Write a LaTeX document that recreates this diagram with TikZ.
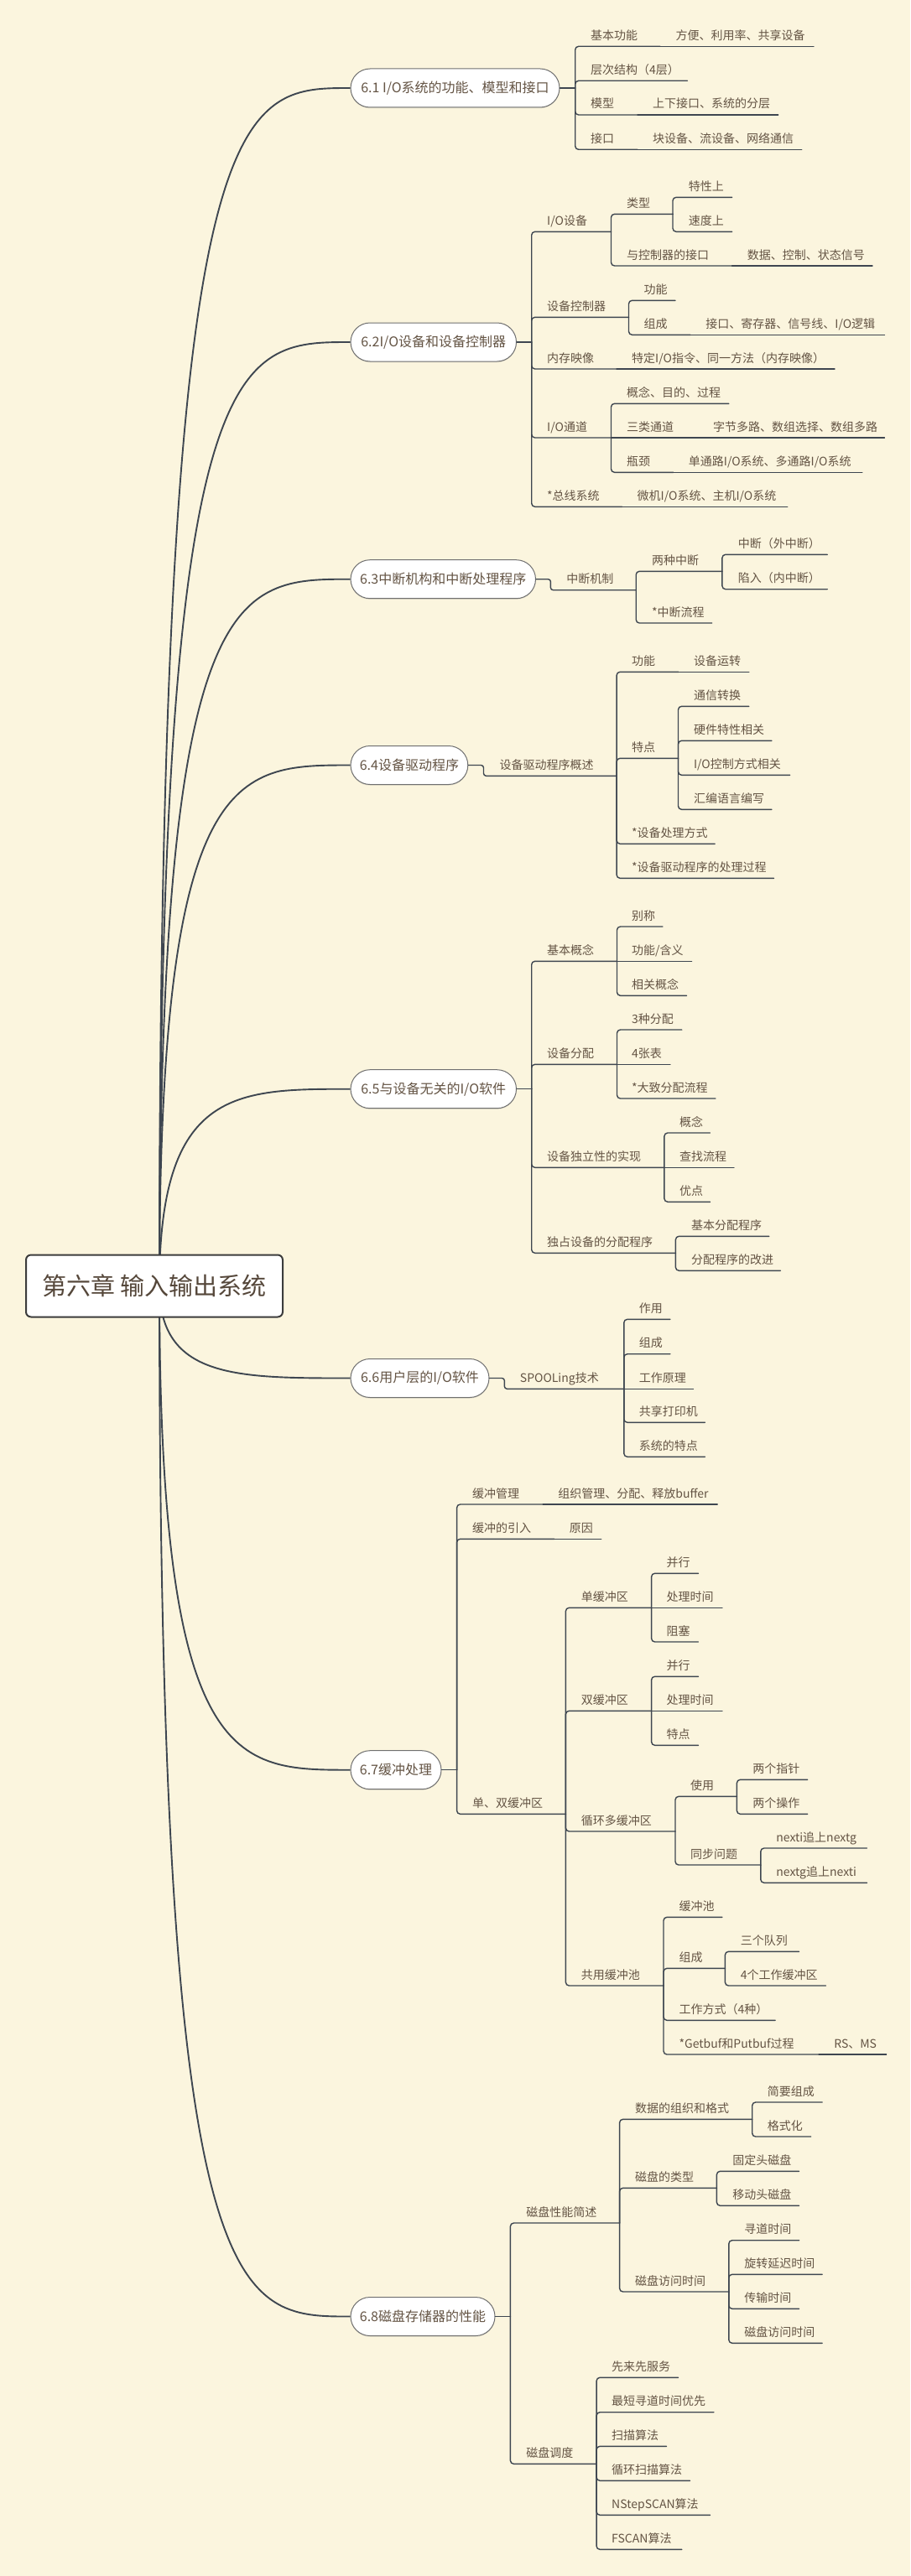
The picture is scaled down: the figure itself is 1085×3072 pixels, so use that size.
\documentclass[tikz,border=0pt]{standalone}
\usepackage{fontspec}
\setmainfont{Noto Sans CJK SC}
\usetikzlibrary{shadows}
\definecolor{bgc}{RGB}{251,245,222}
\definecolor{lnc}{RGB}{62,70,80}
\definecolor{txc}{RGB}{100,84,68}
\definecolor{l1b}{RGB}{112,112,112}
\definecolor{rtb}{RGB}{60,60,60}
\newcommand\mmI[5]{\coordinate (#1-r) at (#2,#3);\node[itm] (#1) at (#4,#3-8) {#5};}
\newcommand\mmE[2]{\draw[ln] (#1-r) |- (#2-r);}
\newcommand\mmH[2]{\draw[ln] (#1-r) -- (#2-r);}
\newcommand\mmC[2]{\draw[cv] (rc) .. controls (190,#2) and (281,#2) .. (#1.west);}
\begin{document}
\begin{tikzpicture}[x=1pt,y=-1pt,
 ln/.style={draw=lnc, line width=1.4pt, rounded corners=4pt, line cap=round},
 cv/.style={draw=lnc, line width=1.9pt},
 itm/.style={anchor=base west, inner sep=0pt, text=txc, font=\fontsize{14}{17}\selectfont},
 lone/.style={draw=l1b, line width=1pt, fill=white, rounded corners=23pt, minimum height=46pt, inner xsep=10pt, anchor=west, text=txc, font=\fontsize{16}{19}\selectfont, drop shadow={shadow xshift=0pt, shadow yshift=-1.2pt, opacity=0.22}},
 rootst/.style={draw=rtb, line width=2pt, fill=white, rounded corners=6pt, minimum width=306pt, minimum height=74pt, text=txc!85!black, font=\fontsize{29}{34}\selectfont}]
\useasboundingbox (0,0) rectangle (1085,3072);
\fill[bgc] (0,0) rectangle (1085,3072);
\coordinate (rc) at (190,1533.5);
% level-1 nodes
\node[lone, minimum width=249pt] (n1) at (417.5,105) {6.1 I/O系统的功能、模型和接口};
\node[lone, minimum width=197.5pt] (n2) at (417.5,408) {6.2I/O设备和设备控制器};
\node[lone, minimum width=220.5pt] (n3) at (417.5,690.7) {6.3中断机构和中断处理程序};
\node[lone, minimum width=139.8pt] (n4) at (417.5,912.5) {6.4设备驱动程序};
\node[lone, minimum width=197.5pt] (n5) at (417.5,1298.7) {6.5与设备无关的I/O软件};
\node[lone, minimum width=165pt] (n6) at (417.5,1643.5) {6.6用户层的I/O软件};
\node[lone, minimum width=108pt] (n7) at (417.5,2110.7) {6.7缓冲处理};
\node[lone, minimum width=172pt] (n8) at (417.5,2762.5) {6.8磁盘存储器的性能};
% curves from root
\mmC{n1}{105}
\mmC{n2}{408}
\mmC{n3}{690.7}
\mmC{n4}{912.5}
\mmC{n5}{1298.7}
\mmC{n6}{1643.5}
\mmC{n7}{2110.7}
\mmC{n8}{2762.5}
\node[rootst] (root) at (184,1533.5) {第六章 输入输出系统};
% junctions
\coordinate (j1-r) at (685.7,105);
\coordinate (j2-r) at (633.7,408);
\coordinate (s3) at (656.4,703.7);
\coordinate (s4) at (576.5,925.3);
\coordinate (j5-r) at (633.7,1298.7);
\coordinate (s6) at (601.4,1656.3);
\coordinate (j7-r) at (544.6,2110.7);
\coordinate (j8-r) at (608.4,2762.5);
% ---------- 6.1
\mmI{a1}{787}{55.3}{704}{基本功能}
\mmI{a1c}{970}{55.3}{805.4}{方便、利用率、共享设备}
\mmI{a2}{819.4}{96.3}{704}{层次结构（4层）}
\mmI{a3}{760}{137}{704}{模型}
\mmI{a3c}{927.7}{137}{777.9}{上下接口、系统的分层}
\mmI{a4}{760}{178.3}{704}{接口}
\mmI{a4c}{955.7}{178.3}{777.9}{块设备、流设备、网络通信}
\draw[ln] (n1.east) -- (j1-r);
\mmE{j1}{a1}\mmH{a1}{a1c}\mmE{j1}{a2}\mmE{j1}{a3}\mmH{a3}{a3c}\mmE{j1}{a4}\mmH{a4}{a4c}
% ---------- 6.2
\mmI{b1}{728.5}{276.3}{652}{I/O设备}
\mmI{b11}{802}{255.3}{747}{类型}
\mmI{b111}{872.7}{235.3}{820.7}{特性上}
\mmI{b112}{872.7}{276.3}{820.7}{速度上}
\mmI{b12}{872.6}{317}{747}{与控制器的接口}
\mmI{b121}{1040}{317}{890.6}{数据、控制、状态信号}
\mmI{b2}{749.5}{378.3}{652}{设备控制器}
\mmI{b21}{805}{358.3}{767.5}{功能}
\mmI{b22}{823}{399.3}{767.5}{组成}
\mmI{b221}{1054.4}{399.3}{841.2}{接口、寄存器、信号线、I/O逻辑}
\mmI{b3}{735}{440}{652}{内存映像}
\mmI{b31}{995}{440}{753}{特定I/O指令、同一方法（内存映像）}
\mmI{b4}{728.5}{522}{652}{I/O通道}
\mmI{b41}{868.8}{481.3}{747}{概念、目的、过程}
\mmI{b42}{832}{522}{747}{三类通道}
\mmI{b421}{1054.4}{522}{850}{字节多路、数组选择、数组多路}
\mmI{b43}{802.7}{563.3}{747}{瓶颈}
\mmI{b431}{1027.8}{563.3}{820.7}{单通路I/O系统、多通路I/O系统}
\mmI{b5}{741.5}{604.3}{652}{*总线系统}
\mmI{b51}{938.7}{604.3}{759.5}{微机I/O系统、主机I/O系统}
\draw[ln] (n2.east) -- (j2-r);
\mmE{j2}{b1}\mmE{b1}{b11}\mmE{b11}{b111}\mmE{b11}{b112}\mmE{b1}{b12}\mmH{b12}{b121}
\mmE{j2}{b2}\mmE{b2}{b21}\mmE{b2}{b22}\mmH{b22}{b221}
\mmE{j2}{b3}\mmH{b3}{b31}
\mmE{j2}{b4}\mmE{b4}{b41}\mmH{b4}{b42}\mmH{b42}{b421}\mmE{b4}{b43}\mmH{b43}{b431}
\mmE{j2}{b5}\mmH{b5}{b51}
% ---------- 6.3
\mmI{c1}{758.2}{703.7}{675.2}{中断机制}
\mmI{c11}{860.9}{681.3}{777}{两种中断}
\mmI{c111}{986.3}{661.3}{879.7}{中断（外中断）}
\mmI{c112}{986.3}{702.7}{879.7}{陷入（内中断）}
\mmI{c12}{848.7}{743}{777}{*中断流程}
\draw[ln, rounded corners=3pt] (n3.east) -| (s3) -- (c1-r);
\mmE{c1}{c11}\mmE{c11}{c111}\mmE{c11}{c112}\mmE{c1}{c12}
% ---------- 6.4
\mmI{d1}{735.1}{925.3}{595.3}{设备驱动程序概述}
\mmI{d11}{808.8}{801.3}{753}{功能}
\mmI{d111}{892.8}{801.3}{826.8}{设备运转}
\mmI{d12}{808.5}{904.3}{753}{特点}
\mmI{d121}{892.8}{842.3}{826.8}{通信转换}
\mmI{d122}{919.9}{883.3}{826.8}{硬件特性相关}
\mmI{d123}{941.7}{924.3}{826.8}{I/O控制方式相关}
\mmI{d124}{919.9}{965.3}{826.8}{汇编语言编写}
\mmI{d13}{852.2}{1006.3}{753}{*设备处理方式}
\mmI{d14}{922.5}{1047.3}{753}{*设备驱动程序的处理过程}
\draw[ln, rounded corners=3pt] (n4.east) -| (s4) -- (d1-r);
\mmE{d1}{d11}\mmH{d11}{d111}\mmE{d1}{d12}\mmE{d12}{d121}\mmE{d12}{d122}\mmE{d12}{d123}\mmE{d12}{d124}
\mmE{d1}{d13}\mmE{d1}{d14}
% ---------- 6.5
\mmI{e1}{735.5}{1146.3}{652}{基本概念}
\mmI{e11}{790}{1105}{753}{别称}
\mmI{e12}{824.6}{1146.3}{753}{功能/含义}
\mmI{e13}{818.5}{1187.3}{753}{相关概念}
\mmI{e2}{735.5}{1269.3}{652}{设备分配}
\mmI{e21}{812.8}{1228}{753}{3种分配}
\mmI{e22}{798.9}{1269.3}{753}{4张表}
\mmI{e23}{853}{1310}{753}{*大致分配流程}
\mmI{e3}{791.9}{1392.3}{652}{设备独立性的实现}
\mmI{e31}{846.5}{1351}{809.8}{概念}
\mmI{e32}{874.9}{1392.3}{809.8}{查找流程}
\mmI{e33}{846.5}{1433.3}{809.8}{优点}
\mmI{e4}{805.4}{1494.3}{652}{独占设备的分配程序}
\mmI{e41}{916.8}{1474.3}{823.8}{基本分配程序}
\mmI{e42}{930.4}{1515.3}{823.8}{分配程序的改进}
\draw[ln] (n5.east) -- (j5-r);
\mmE{j5}{e1}\mmE{e1}{e11}\mmH{e1}{e12}\mmE{e1}{e13}
\mmE{j5}{e2}\mmE{e2}{e21}\mmH{e2}{e22}\mmE{e2}{e23}
\mmE{j5}{e3}\mmE{e3}{e31}\mmH{e3}{e32}\mmE{e3}{e33}
\mmE{j5}{e4}\mmE{e4}{e41}\mmE{e4}{e42}
% ---------- 6.6
\mmI{f1}{743.8}{1656.3}{619.7}{SPOOLing技术}
\mmI{f11}{798.9}{1573.3}{761.7}{作用}
\mmI{f12}{798.9}{1614.7}{761.7}{组成}
\mmI{f13}{826.4}{1656.3}{761.7}{工作原理}
\mmI{f14}{840.4}{1696.3}{761.7}{共享打印机}
\mmI{f15}{840.4}{1737.3}{761.7}{系统的特点}
\draw[ln, rounded corners=3pt] (n6.east) -| (s6) -- (f1-r);
\mmE{f1}{f11}\mmE{f1}{f12}\mmH{f1}{f13}\mmE{f1}{f14}\mmE{f1}{f15}
% ---------- 6.7
\mmI{g1}{647.2}{1794}{563}{缓冲管理}
\mmI{g11}{855.2}{1794}{665.2}{组织管理、分配、释放buffer}
\mmI{g2}{660.7}{1835.3}{563}{缓冲的引入}
\mmI{g21}{716.7}{1835.3}{678.7}{原因}
\mmI{g3}{674.4}{2163.3}{563}{单、双缓冲区}
\mmI{g31}{776.6}{1917.3}{692.7}{单缓冲区}
\mmI{g311}{832.5}{1876.3}{794.5}{并行}
\mmI{g312}{860.9}{1917.3}{794.5}{处理时间}
\mmI{g313}{832.5}{1958}{794.5}{阻塞}
\mmI{g32}{776.6}{2040.3}{692.7}{双缓冲区}
\mmI{g321}{832.5}{1999.3}{794.5}{并行}
\mmI{g322}{860.9}{2040.3}{794.5}{处理时间}
\mmI{g323}{832.5}{2081.3}{794.5}{特点}
\mmI{g33}{805}{2184}{692.7}{循环多缓冲区}
\mmI{g331}{878.4}{2142.3}{822.9}{使用}
\mmI{g3311}{962.7}{2122.3}{897.2}{两个指针}
\mmI{g3312}{962.7}{2163.3}{897.2}{两个操作}
\mmI{g332}{906.8}{2224}{822.9}{同步问题}
\mmI{g3321}{1033.5}{2204}{925.1}{nexti追上nextg}
\mmI{g3322}{1033.5}{2245.3}{925.1}{nextg追上nexti}
\mmI{g34}{791}{2368}{692.7}{共用缓冲池}
\mmI{g341}{860.9}{2286.3}{809.4}{缓冲池}
\mmI{g342}{864.4}{2347.3}{809.4}{组成}
\mmI{g3421}{952.6}{2327.3}{882.7}{三个队列}
\mmI{g3422}{984.5}{2368}{882.7}{4个工作缓冲区}
\mmI{g343}{924.2}{2409.3}{809.4}{工作方式（4种）}
\mmI{g344}{976.1}{2450}{809.4}{*Getbuf和Putbuf过程}
\mmI{g3441}{1056.6}{2450}{994.1}{RS、MS}
\draw[ln] (n7.east) -- (j7-r);
\mmE{j7}{g1}\mmH{g1}{g11}\mmE{j7}{g2}\mmH{g2}{g21}\mmE{j7}{g3}
\mmE{g3}{g31}\mmE{g31}{g311}\mmH{g31}{g312}\mmE{g31}{g313}
\mmE{g3}{g32}\mmE{g32}{g321}\mmH{g32}{g322}\mmE{g32}{g323}
\mmE{g3}{g33}\mmE{g33}{g331}\mmE{g331}{g3311}\mmE{g331}{g3312}
\mmE{g33}{g332}\mmE{g332}{g3321}\mmE{g332}{g3322}
\mmE{g3}{g34}\mmE{g34}{g341}\mmE{g34}{g342}\mmE{g342}{g3421}\mmE{g342}{g3422}
\mmE{g34}{g343}\mmE{g34}{g344}\mmH{g344}{g3441}
% ---------- 6.8
\mmI{h1}{738.6}{2651}{627.2}{磁盘性能简述}
\mmI{h11}{896.7}{2527.3}{757}{数据的组织和格式}
\mmI{h111}{980.2}{2507}{914.6}{简要组成}
\mmI{h112}{966.6}{2548}{914.6}{格式化}
\mmI{h12}{854.4}{2609.3}{757}{磁盘的类型}
\mmI{h121}{952.6}{2589.3}{873.1}{固定头磁盘}
\mmI{h122}{952.6}{2630.3}{873.1}{移动头磁盘}
\mmI{h13}{868.8}{2733}{757}{磁盘访问时间}
\mmI{h131}{952.6}{2671.7}{887.1}{寻道时间}
\mmI{h132}{980.2}{2712.3}{887.1}{旋转延迟时间}
\mmI{h133}{952.6}{2753.3}{887.1}{传输时间}
\mmI{h134}{980.2}{2794.3}{887.1}{磁盘访问时间}
\mmI{h2}{711.1}{2938.3}{627.2}{磁盘调度}
\mmI{h21}{808.5}{2835.3}{729}{先来先服务}
\mmI{h22}{850.9}{2876.7}{729}{最短寻道时间优先}
\mmI{h23}{794.5}{2917.3}{729}{扫描算法}
\mmI{h24}{822.5}{2958.3}{729}{循环扫描算法}
\mmI{h25}{846.5}{2999.3}{729}{NStepSCAN算法}
\mmI{h26}{812.8}{3040.3}{729}{FSCAN算法}
\draw[ln] (n8.east) -- (j8-r);
\mmE{j8}{h1}\mmE{h1}{h11}\mmE{h11}{h111}\mmE{h11}{h112}
\mmE{h1}{h12}\mmE{h12}{h121}\mmE{h12}{h122}
\mmE{h1}{h13}\mmE{h13}{h131}\mmE{h13}{h132}\mmE{h13}{h133}\mmE{h13}{h134}
\mmE{j8}{h2}\mmE{h2}{h21}\mmE{h2}{h22}\mmE{h2}{h23}\mmE{h2}{h24}\mmE{h2}{h25}\mmE{h2}{h26}
\end{tikzpicture}
\end{document}
